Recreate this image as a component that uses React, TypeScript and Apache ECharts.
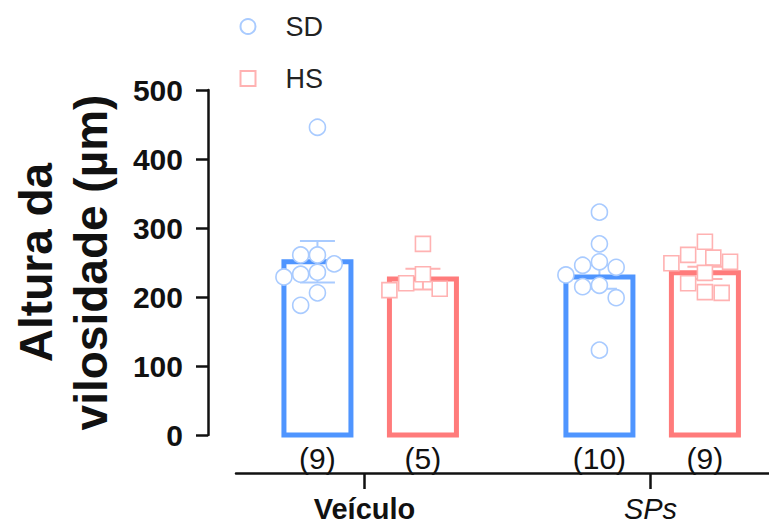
import React, { useEffect, useRef } from "react";
import * as echarts from "echarts";

// ---- data ----
const groups = ["Veículo", "SPs"];
const seriesNames = ["SD", "HS"];
const sdVeiculo = [446, 261, 261, 248, 236, 233, 229, 206, 188];
const hsVeiculo = [277, 233, 220, 212, 210];
const sdSPs = [323, 277, 251, 246, 243, 232, 217, 215, 199, 123];
const hsSPs = [280, 261, 257, 251, 249, 235, 220, 207, 206];
const sdMeans = [251, 229];
const hsMeans = [226, 235];
const sdSem = [30, 17];
const hsSem = [15, 9];
const yMax = 500;
const yInterval = 100;

// ---- layout / style ----
const FONT = '"Liberation Sans", Arial, Helvetica, sans-serif';
const W = 769;
const H = 524;
const GRID_LEFT = 200;
const GRID_TOP = 90;
const GRID_H = 345;
const GRID_W = W - GRID_LEFT;
const PX_PER_GROUP = 286;
const FIRST_GROUP_PX = 364.5;
const BAR_SEP_PX = 107;
const BAR_W = 67;
const CAP_W = 35;
const DOT_D = 17;
const X_MIN = 1 - (FIRST_GROUP_PX - GRID_LEFT) / PX_PER_GROUP;
const X_MAX = X_MIN + GRID_W / PX_PER_GROUP;
const BOTTOM_AXIS_LEFT = 236;
const X2_MIN = 1 - (FIRST_GROUP_PX - BOTTOM_AXIS_LEFT) / PX_PER_GROUP;
const barColors = ["#4f95ff", "#ff7b7b"];
const dotColors = ["#a9cbff", "#ffb2b2"];

const OFF = BAR_SEP_PX / 2 / PX_PER_GROUP;
const barX = (g: number, s: number) => g + 1 + (s === 0 ? -OFF : OFF);

// simple beeswarm on half-diameter slots
function swarm(values: number[]): number[] {
  const yPx = GRID_H / yMax;
  const order = values.map((v, i) => i).sort((a, b) => values[b] - values[a]);
  const placed: { dx: number; y: number }[] = [];
  const res = new Array(values.length).fill(0);
  const slots = [0, -1, 1, -2, 2, -3, 3, -4, 4, -5, 5];
  for (const i of order) {
    const y = values[i] * yPx;
    for (const k of slots) {
      const dx = (k * DOT_D) / 2;
      const ok = placed.every(
        (p) => (p.dx - dx) ** 2 + (p.y - y) ** 2 >= DOT_D * DOT_D - 0.5
      );
      if (ok) {
        placed.push({ dx, y });
        res[i] = dx;
        break;
      }
    }
  }
  return res;
}

function dots(groupVals: number[][], s: number) {
  const out: number[][] = [];
  groupVals.forEach((vals, g) => {
    const off = swarm(vals);
    vals.forEach((v, i) => out.push([barX(g, s) + off[i] / PX_PER_GROUP, v]));
  });
  return out;
}

export default function App() {
  const ref = useRef<HTMLDivElement>(null);
  useEffect(() => {
    document.body.style.margin = "0";
    const chart = echarts.init(ref.current!, null, { renderer: "svg" });
    const counts = [
      [sdVeiculo.length, hsVeiculo.length],
      [sdSPs.length, hsSPs.length],
    ];
    const nPos: number[] = [];
    const nText: string[] = [];
    groups.forEach((_, g) =>
      seriesNames.forEach((_, s) => {
        nPos.push(barX(g, s));
        nText.push(`(${counts[g][s]})`);
      })
    );
    const barData: number[][] = [];
    groups.forEach((_, g) => {
      barData.push([barX(g, 0), sdMeans[g], sdSem[g], 0]);
      barData.push([barX(g, 1), hsMeans[g], hsSem[g], 1]);
    });

    chart.setOption({
      animation: false,
      textStyle: { fontFamily: FONT },
      grid: [
        { left: GRID_LEFT, top: GRID_TOP, width: GRID_W, height: GRID_H },
        { left: BOTTOM_AXIS_LEFT, right: 0, top: 472, height: 1 },
      ],
      legend: {
        orient: "vertical",
        left: 234.5,
        top: 8,
        itemWidth: 15,
        itemHeight: 15,
        itemGap: 25,
        textStyle: {
          fontSize: 27,
          color: "#222",
          fontFamily: FONT,
          padding: [0, 0, 0, 25],
        },
        data: [
          {
            name: "SD",
            icon: "circle",
            itemStyle: { color: "#fff", borderColor: dotColors[0], borderWidth: 2 },
          },
          {
            name: "HS",
            icon: "rect",
            itemStyle: { color: "#fff", borderColor: dotColors[1], borderWidth: 2 },
          },
        ],
      },
      xAxis: [
        {
          type: "value",
          gridIndex: 0,
          min: X_MIN,
          max: X_MAX,
          axisLine: { show: false },
          axisTick: { show: false },
          splitLine: { show: false },
          axisLabel: {
            customValues: nPos,
            margin: 8,
            fontSize: 30,
            color: "#111",
            fontFamily: FONT,
            formatter: (v: number) => {
              let best = 0;
              nPos.forEach((p, i) => {
                if (Math.abs(p - v) < Math.abs(nPos[best] - v)) best = i;
              });
              return nText[best];
            },
          },
        },
        {
          type: "value",
          gridIndex: 1,
          min: X2_MIN,
          max: X_MAX,
          position: "bottom",
          axisLine: { show: true, lineStyle: { color: "#111", width: 2.5 } },
          axisTick: {
            show: true,
            customValues: [1, 2],
            length: 16,
            lineStyle: { color: "#111", width: 2.5 },
          },
          splitLine: { show: false },
          axisLabel: {
            customValues: [1, 2],
            margin: 21,
            formatter: (v: number) =>
              Math.round(v) === 1 ? `{b|${groups[0]}}` : `{i|${groups[1]}}`,
            rich: {
              b: { fontSize: 29, fontWeight: "bold", color: "#111", fontFamily: FONT },
              i: { fontSize: 29, fontStyle: "italic", color: "#111", fontFamily: FONT },
            },
          },
        },
      ],
      yAxis: [
        {
          type: "value",
          gridIndex: 0,
          min: 0,
          max: yMax,
          interval: yInterval,
          name: "Altura da\nvilosidade (µm)",
          nameLocation: "middle",
          nameRotate: 90,
          nameGap: 90,
          nameTextStyle: {
            fontSize: 46,
            fontWeight: "bold",
            color: "#111",
            lineHeight: 55,
            fontFamily: FONT,
          },
          axisLine: { show: true, lineStyle: { color: "#111", width: 2.5 } },
          axisTick: { show: true, length: 12, lineStyle: { color: "#111", width: 2.5 } },
          splitLine: { show: false },
          axisLabel: {
            fontSize: 30,
            fontWeight: "bold",
            color: "#111",
            margin: 25,
            fontFamily: FONT,
          },
        },
        { type: "value", gridIndex: 1, show: false, min: 0, max: 1 },
      ],
      series: [
        {
          type: "custom",
          name: "bars",
          xAxisIndex: 0,
          yAxisIndex: 0,
          z: 2,
          encode: { x: 0, y: 1 },
          data: barData,
          renderItem: (params: any, api: any) => {
            const x = api.value(0);
            const m = api.value(1);
            const s = api.value(2);
            const k = api.value(3);
            const top = api.coord([x, m]);
            const base = api.coord([x, 0]);
            const hi = api.coord([x, m + s]);
            const lo = api.coord([x, m - s]);
            const ls = { stroke: dotColors[k], lineWidth: 2 };
            return {
              type: "group",
              children: [
                { type: "line", shape: { x1: hi[0], y1: hi[1], x2: lo[0], y2: lo[1] }, style: ls },
                { type: "line", shape: { x1: hi[0] - CAP_W / 2, y1: hi[1], x2: hi[0] + CAP_W / 2, y2: hi[1] }, style: ls },
                { type: "line", shape: { x1: lo[0] - CAP_W / 2, y1: lo[1], x2: lo[0] + CAP_W / 2, y2: lo[1] }, style: ls },
                {
                  type: "rect",
                  shape: { x: top[0] - BAR_W / 2, y: top[1], width: BAR_W, height: base[1] - top[1] },
                  style: { fill: "none", stroke: barColors[k], lineWidth: 5 },
                },
              ],
            };
          },
        },
        {
          type: "scatter",
          name: "SD",
          xAxisIndex: 0,
          yAxisIndex: 0,
          z: 3,
          symbol: "circle",
          symbolSize: 16,
          itemStyle: { color: "#fff", borderColor: dotColors[0], borderWidth: 1.6, opacity: 1 },
          data: dots([sdVeiculo, sdSPs], 0),
        },
        {
          type: "scatter",
          name: "HS",
          xAxisIndex: 0,
          yAxisIndex: 0,
          z: 3,
          symbol: "rect",
          symbolSize: 15,
          itemStyle: { color: "#fff", borderColor: dotColors[1], borderWidth: 1.6, opacity: 1 },
          data: dots([hsVeiculo, hsSPs], 1),
        },
      ],
    });
    return () => chart.dispose();
  }, []);
  return <div ref={ref} style={{ width: W, height: H }} />;
}
